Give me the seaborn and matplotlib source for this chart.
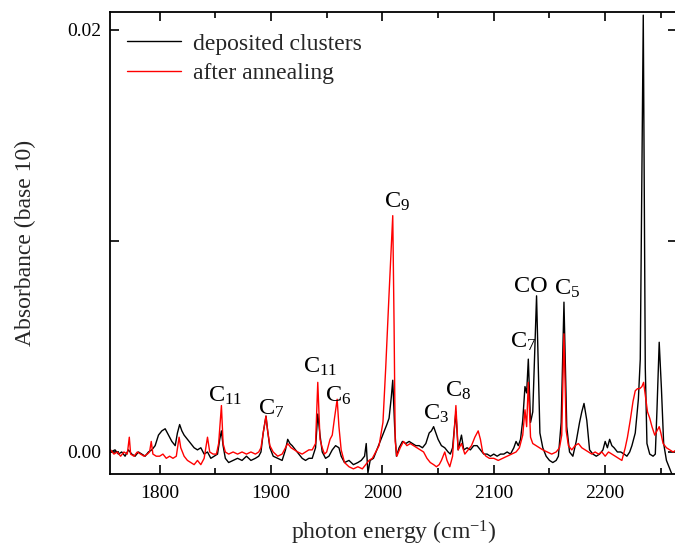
import matplotlib
matplotlib.use("Agg")
import matplotlib.pyplot as plt
import numpy as np
import pandas as pd
import seaborn as sns

# IR absorbance spectra of carbon clusters in a matrix (wavenumber in cm^-1)
dep_x = [1756, 1760, 1763, 1766, 1769, 1772, 1775, 1778, 1781, 1784, 1787, 1790, 1793,
         1796, 1799, 1802, 1805, 1808, 1811, 1814, 1816, 1818, 1820, 1822, 1825, 1828,
         1831, 1834, 1837, 1840, 1843, 1846, 1849, 1852, 1854, 1855.5, 1857, 1859, 1862,
         1866, 1870, 1874, 1878, 1882, 1886, 1889, 1891, 1893, 1895.5, 1897, 1899, 1902,
         1906, 1910, 1913, 1915, 1917, 1919, 1922, 1925, 1928, 1931, 1934, 1937, 1940,
         1942, 1944, 1946, 1949, 1952, 1955, 1958, 1961, 1963, 1966, 1970, 1974, 1978,
         1981, 1984, 1985.5, 1987, 1989, 1992, 1995, 1998, 2001, 2004, 2006, 2008, 2009.3,
         2011, 2012.6, 2015, 2018, 2021, 2024, 2027, 2030, 2033, 2036, 2039, 2042, 2044,
         2046, 2048, 2050, 2053, 2056, 2059, 2061, 2063, 2066, 2068, 2071, 2073, 2076,
         2079, 2082, 2085, 2088, 2091, 2094, 2097, 2100, 2103, 2106, 2109, 2112, 2115,
         2118, 2120, 2122, 2124, 2126, 2128, 2129.5, 2131, 2133, 2135, 2138.4, 2141.4,
         2144, 2147, 2150, 2153, 2156, 2158, 2160.5, 2163, 2165.5, 2168, 2171, 2174, 2177,
         2179, 2181, 2183.5, 2186, 2189, 2192, 2195, 2198, 2200, 2202, 2204, 2206, 2208,
         2211, 2214, 2217, 2219.5, 2222, 2224, 2227, 2229.8, 2231.5, 2234.2, 2236, 2237.5,
         2240, 2243, 2245, 2246.5, 2248.5, 2250.5, 2252.5, 2255, 2258, 2261, 2264]
dep_y = [0.0000, 0.0001, -0.0001, 0.0000, -0.0002, 0.0001, -0.0001, -0.0002, 0.0000,
         -0.0001, -0.0002, 0.0000, 0.0001, 0.0003, 0.0008, 0.0010, 0.0011, 0.0008, 0.0005,
         0.0003, 0.0009, 0.0013, 0.0010, 0.0008, 0.0006, 0.0004, 0.0002, 0.0001, 0.0002,
         -0.0001, 0.0000, -0.0003, -0.0002, -0.0001, 0.0006, 0.0010, 0.0003, -0.0003,
         -0.0005, -0.0004, -0.0003, -0.0004, -0.0002, -0.0004, -0.0003, -0.0002, 0.0000,
         0.0009, 0.0017, 0.0010, 0.0002, -0.0002, -0.0003, -0.0004, 0.0001, 0.0006,
         0.0004, 0.0003, 0.0001, -0.0001, -0.0003, -0.0004, -0.0003, -0.0003, 0.0002,
         0.0018, 0.0008, 0.0000, -0.0003, -0.0002, 0.0001, 0.0003, 0.0002, -0.0002,
         -0.0005, -0.0004, -0.0006, -0.0005, -0.0004, -0.0002, 0.0004, -0.0010, -0.0004,
         -0.0003, 0.0001, 0.0005, 0.0009, 0.0013, 0.0016, 0.0026, 0.0034, 0.0012, -0.0002,
         0.0002, 0.0005, 0.0004, 0.0005, 0.0004, 0.0003, 0.0003, 0.0002, 0.0004, 0.0009,
         0.0010, 0.0012, 0.0009, 0.0006, 0.0003, 0.0002, 0.0000, -0.0001, 0.0002, 0.0019,
         0.0001, 0.0008, 0.0001, 0.0002, 0.0001, 0.0003, 0.0003, 0.0001, -0.0001, -0.0001,
         -0.0002, -0.0001, -0.0002, -0.0001, -0.0001, 0.0000, -0.0001, 0.0002, 0.0005,
         0.0003, 0.0006, 0.0015, 0.0031, 0.0028, 0.0044, 0.0014, 0.0019, 0.0074, 0.0009,
         0.0002, -0.0002, -0.0004, -0.0005, -0.0004, -0.0002, 0.0014, 0.0071, 0.0012,
         0.0000, -0.0002, 0.0005, 0.0014, 0.0019, 0.0023, 0.0015, 0.0001, -0.0001, -0.0002,
         -0.0001, 0.0001, 0.0005, 0.0002, 0.0006, 0.0003, 0.0002, 0.0000, 0.0000, -0.0001,
         -0.0002, 0.0000, 0.0003, 0.0009, 0.0025, 0.0044, 0.0207, 0.0040, 0.0004, -0.0001,
         -0.0002, -0.0001, 0.0020, 0.0052, 0.0030, 0.0004, -0.0004, -0.0008, -0.0012, -0.0014]

ann_x = [1756, 1759, 1762, 1765, 1768, 1771, 1772.8, 1774, 1777, 1780, 1783, 1786, 1789,
         1791, 1792.5, 1794, 1797, 1800, 1803, 1806, 1809, 1812, 1815, 1817.5, 1819, 1822,
         1825, 1828, 1831, 1834, 1837, 1840, 1843, 1845, 1848, 1851, 1853, 1855.5, 1857,
         1859, 1862, 1866, 1870, 1874, 1878, 1882, 1886, 1889, 1891, 1893, 1895.5, 1897,
         1899, 1902, 1906, 1910, 1913, 1915, 1918, 1921, 1924, 1928, 1931, 1934, 1937,
         1940, 1942, 1944, 1946, 1948, 1950, 1953, 1955, 1957, 1959.4, 1961, 1963, 1966,
         1970, 1974, 1978, 1982, 1985, 1988, 1991, 1994, 1997, 2000.5, 2003, 2006, 2009.3,
         2010.5, 2011.5, 2013, 2016, 2019, 2022, 2025, 2028, 2031, 2034, 2037, 2040, 2043,
         2046, 2048.5, 2051, 2053, 2056, 2058, 2060.5, 2063, 2066, 2068, 2071, 2074, 2077,
         2080, 2083, 2086, 2088, 2090, 2093, 2096, 2100, 2104, 2108, 2112, 2116, 2120,
         2123, 2126, 2128, 2129.5, 2131, 2133, 2135, 2138, 2141, 2144, 2148, 2152, 2156,
         2159, 2161, 2163, 2165, 2167, 2170, 2173, 2176, 2179, 2182, 2185, 2188, 2191,
         2194, 2197, 2200, 2203, 2206, 2209, 2212, 2215, 2218, 2220, 2222.5, 2225, 2227,
         2229, 2231, 2233, 2234.5, 2236, 2238, 2240, 2242, 2244.5, 2246.5, 2248.5, 2250,
         2252, 2255, 2258, 2261, 2264]
ann_y = [0.0001, -0.0001, 0.0000, -0.0002, 0.0000, -0.0001, 0.0007, -0.0001, -0.0002,
         0.0000, -0.0001, -0.0002, -0.0001, 0.0000, 0.0005, -0.0001, -0.0002, -0.0002,
         -0.0001, -0.0003, -0.0002, -0.0003, -0.0002, 0.0007, 0.0002, -0.0002, -0.0004,
         -0.0005, -0.0006, -0.0004, -0.0006, -0.0003, 0.0007, 0.0000, -0.0001, -0.0001,
         0.0004, 0.0022, 0.0004, 0.0000, -0.0001, 0.0000, -0.0001, 0.0000, -0.0001, 0.0000,
         -0.0001, 0.0000, 0.0002, 0.0009, 0.0017, 0.0010, 0.0003, 0.0000, -0.0002, -0.0001,
         0.0002, 0.0004, 0.0002, 0.0001, 0.0000, -0.0001, 0.0000, 0.0001, 0.0001, 0.0004,
         0.0033, 0.0006, 0.0002, -0.0001, 0.0000, 0.0006, 0.0008, 0.0016, 0.0025, 0.0012,
         0.0001, -0.0005, -0.0007, -0.0008, -0.0007, -0.0008, -0.0006, -0.0004, -0.0003,
         0.0000, 0.0003, 0.0014, 0.0040, 0.0075, 0.0112, 0.0060, 0.0005, -0.0002, 0.0002,
         0.0005, 0.0003, 0.0004, 0.0003, 0.0002, 0.0001, 0.0000, -0.0003, -0.0005, -0.0006,
         -0.0007, -0.0006, -0.0004, 0.0000, -0.0004, -0.0007, -0.0002, 0.0022, 0.0001,
         0.0004, -0.0001, 0.0001, 0.0003, 0.0007, 0.0010, 0.0006, 0.0000, -0.0002, -0.0003,
         -0.0003, -0.0004, -0.0003, -0.0002, -0.0001, 0.0000, 0.0002, 0.0008, 0.0020,
         0.0012, 0.0033, 0.0007, 0.0004, 0.0003, 0.0002, 0.0001, 0.0000, -0.0001, 0.0000,
         0.0002, 0.0008, 0.0056, 0.0010, 0.0003, 0.0001, 0.0003, 0.0004, 0.0002, 0.0001,
         0.0000, -0.0001, 0.0000, -0.0001, 0.0000, -0.0002, 0.0000, -0.0001, -0.0002,
         -0.0003, -0.0004, 0.0002, 0.0007, 0.0015, 0.0024, 0.0029, 0.0030, 0.0030, 0.0031,
         0.0033, 0.0027, 0.0019, 0.0016, 0.0012, 0.0008, 0.0010, 0.0012, 0.0009, 0.0004,
         0.0002, 0.0001, 0.0000, 0.0001]

# Band assignments: label text and the position of its baseline start
band_labels = ["C$_{11}$", "C$_{7}$", "C$_{11}$", "C$_{6}$", "C$_{9}$", "C$_{3}$",
               "C$_{8}$", "C$_{7}$", "CO", "C$_{5}$"]
band_label_x = [1843.1, 1888.0, 1928.5, 1948.2, 2001.3, 2036.3, 2056.0, 2114.5, 2118.0, 2154.0]
band_label_y = [0.00237, 0.00175, 0.00374, 0.00237, 0.01156, 0.00152, 0.0026, 0.00493,
                0.00758, 0.00744]

sns.set_theme(style="ticks")
plt.rcParams["font.family"] = ["Liberation Serif", "DejaVu Serif"]
plt.rcParams["mathtext.default"] = "regular"

df = pd.concat([
    pd.DataFrame({"energy": dep_x, "absorbance": dep_y, "sample": "deposited clusters"}),
    pd.DataFrame({"energy": ann_x, "absorbance": ann_y, "sample": "after annealing"}),
])

fig = plt.figure(figsize=(6.75, 5.46), dpi=100)
ax = fig.add_axes([0.163, 0.132, 1.003 - 0.163, 0.978 - 0.132])

sns.lineplot(data=df, x="energy", y="absorbance", hue="sample",
             palette={"deposited clusters": "black", "after annealing": "red"},
             estimator=None, sort=False, linewidth=1.0, ax=ax)

ax.set_xlim(1755.5, 2264.5)
ax.set_ylim(-0.00104, 0.02085)

ax.set_xticks([1800, 1900, 2000, 2100, 2200])
ax.set_xticks(np.arange(1800, 2251, 50), minor=True)
ax.set_yticks([0.0, 0.01, 0.02])
ax.set_yticklabels(["0.00", "", "0.02"])
ax.tick_params(which="both", direction="in", top=True, right=True, width=1.2,
               labelsize=14, colors="black")
ax.tick_params(which="major", length=6.5)
ax.tick_params(axis="x", which="major", pad=8)
ax.tick_params(axis="y", which="major", pad=6)
ax.tick_params(which="minor", length=4)
for s in ax.spines.values():
    s.set_linewidth(1.3)
    s.set_color("black")

ax.set_xlabel("photon energy (cm$^{-1}$)", fontsize=17, labelpad=12)
ax.set_ylabel("Absorbance (base 10)", fontsize=17, labelpad=23)

for lab, lx, ly in zip(band_labels, band_label_x, band_label_y):
    ax.text(lx, ly, lab, fontsize=17.5, ha="left", va="baseline", color="black")

leg = ax.legend(loc="upper left", frameon=False, fontsize=17, handlelength=2.3,
                handletextpad=0.5, labelspacing=0.32, borderaxespad=0.3,
                bbox_to_anchor=(0.0, 0.99))
leg.set_title(None)

fig.savefig("out.png", dpi=100)
